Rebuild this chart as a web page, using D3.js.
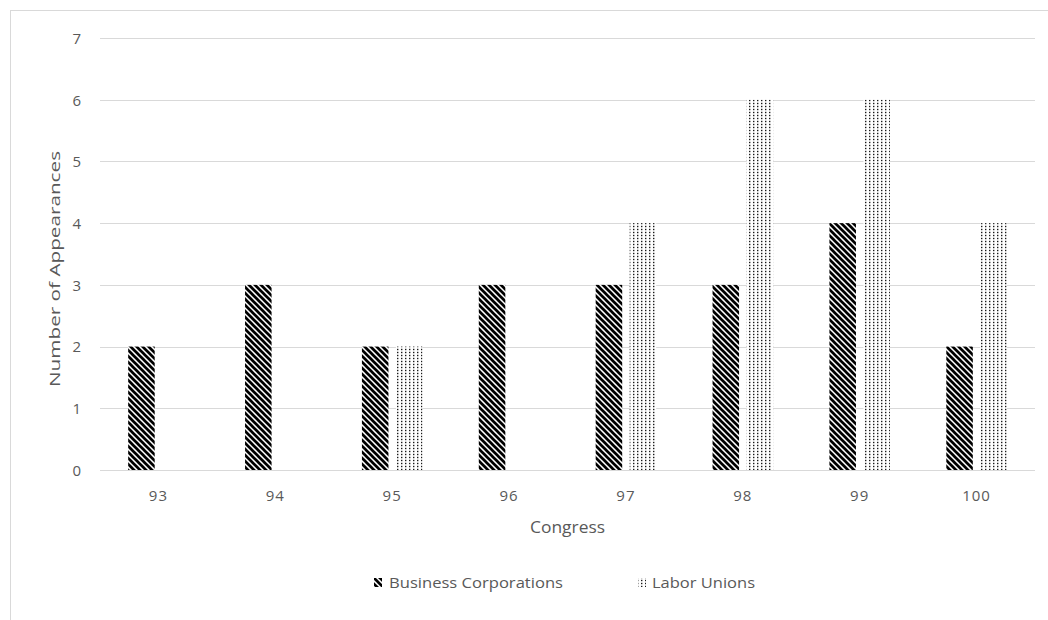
<!DOCTYPE html>
<html>
<head>
<meta charset="utf-8">
<script src="https://cdn.jsdelivr.net/npm/d3@7"></script>
<style>
  html, body { margin: 0; padding: 0; background: #fff; }
  svg text { font-family: "Open Sans", "Liberation Sans", sans-serif; fill: #595959; }
</style>
</head>
<body>
<svg id="chart" width="1048" height="620"></svg>
<script>
const categories = ["93", "94", "95", "96", "97", "98", "99", "100"];
const seriesNames = ["Business Corporations", "Labor Unions"];
const business = [2, 3, 2, 3, 3, 3, 4, 2];
const labor = [0, 0, 2, 0, 4, 6, 6, 4];
const yTicks = [0, 1, 2, 3, 4, 5, 6, 7];

const svg = d3.select("#chart");
const plot = { left: 100, right: 1035, top: 38, bottom: 470 };

// outer frame
svg.append("rect").attr("x", 10.5).attr("y", 10.5).attr("width", 1100).attr("height", 700)
  .attr("fill", "none").attr("stroke", "#d9d9d9").attr("stroke-width", 1);

const defs = svg.append("defs");
// diagonal hatch (wide downward diagonal)
const hatch = defs.append("pattern").attr("id", "hatch").attr("patternUnits", "userSpaceOnUse")
  .attr("width", 6).attr("height", 6);
hatch.append("rect").attr("width", 6).attr("height", 6).attr("fill", "#fff");
hatch.append("path").attr("d", "M-1,-1 L7,7 M-4,2 L4,10 M2,-4 L10,4")
  .attr("stroke", "#000").attr("stroke-width", 2.7);
// dotted pattern (grid of small dots)
const dots = defs.append("pattern").attr("id", "dots").attr("patternUnits", "userSpaceOnUse")
  .attr("width", 4).attr("height", 3);
dots.append("rect").attr("width", 4).attr("height", 3).attr("fill", "#fff");
dots.append("rect").attr("x", 1).attr("y", 0.8).attr("width", 1.4).attr("height", 1.4).attr("fill", "#1a1a1a");

const x = d3.scaleBand().domain(categories).range([plot.left, plot.right]).padding(0);
const y = d3.scaleLinear().domain([0, 7]).range([plot.bottom, plot.top]);

// gridlines
svg.append("g").selectAll("line").data(yTicks).join("line")
  .attr("x1", plot.left).attr("x2", plot.right)
  .attr("y1", d => Math.round(y(d)) + 0.5).attr("y2", d => Math.round(y(d)) + 0.5)
  .attr("stroke", "#d9d9d9").attr("stroke-width", 1);

// y axis labels
const yAxis = d3.axisLeft(y).tickValues(yTicks).tickSize(0).tickPadding(0).tickFormat(d3.format("d"));
const gy = svg.append("g").attr("transform", `translate(${plot.left - 19},0)`).call(yAxis);
gy.select(".domain").remove();
gy.selectAll("text").attr("font-size", 15).attr("fill", "#595959").attr("font-family", null)
  .attr("dy", "0.36em");

// x axis labels
const xAxis = d3.axisBottom(x).tickSize(0).tickPadding(0);
const gx = svg.append("g").attr("transform", `translate(0,${plot.bottom})`).call(xAxis);
gx.select(".domain").remove();
gx.selectAll("text").attr("font-size", 15).attr("fill", "#595959").attr("font-family", null)
  .attr("y", 31).attr("dy", 0).attr("letter-spacing", 1);

// bars
const bw = x.bandwidth();
const barW = bw * 0.227;
const innerGap = bw * 0.064;
const data = categories.map((c, i) => ({ c, b: business[i], l: labor[i] }));

svg.append("g").selectAll("rect").data(data).join("rect")
  .attr("x", d => x(d.c) + bw / 2 - innerGap / 2 - barW)
  .attr("y", d => y(d.b))
  .attr("width", barW)
  .attr("height", d => y(0) - y(d.b))
  .attr("fill", "url(#hatch)");

svg.append("g").selectAll("rect").data(data.filter(d => d.l > 0)).join("rect")
  .attr("x", d => x(d.c) + bw / 2 + innerGap / 2)
  .attr("y", d => y(d.l))
  .attr("width", barW)
  .attr("height", d => y(0) - y(d.l))
  .attr("fill", "url(#dots)");

// axis titles
svg.append("text").attr("transform", `translate(60,269) rotate(-90)`)
  .attr("text-anchor", "middle").attr("font-size", 14.5)
  .attr("textLength", 236).attr("lengthAdjust", "spacingAndGlyphs")
  .text("Number of Appearances");
svg.append("text").attr("x", (plot.left + plot.right) / 2).attr("y", 533)
  .attr("text-anchor", "middle").attr("font-size", 16)
  .attr("textLength", 75).attr("lengthAdjust", "spacingAndGlyphs")
  .text("Congress");

// legend
const legend = [
  { name: seriesNames[0], fill: "url(#hatch)", ix: 374, tx: 389, len: 174 },
  { name: seriesNames[1], fill: "url(#dots)", ix: 638, tx: 652, len: 103 }
];
const lg = svg.append("g").selectAll("g").data(legend).join("g");
lg.append("rect").attr("x", d => d.ix).attr("y", 578).attr("width", 8).attr("height", 9)
  .attr("fill", d => d.fill);
lg.append("text").attr("x", d => d.tx).attr("y", 588).attr("font-size", 14.5)
  .attr("textLength", d => d.len).attr("lengthAdjust", "spacingAndGlyphs")
  .text(d => d.name);
</script>
</body>
</html>
